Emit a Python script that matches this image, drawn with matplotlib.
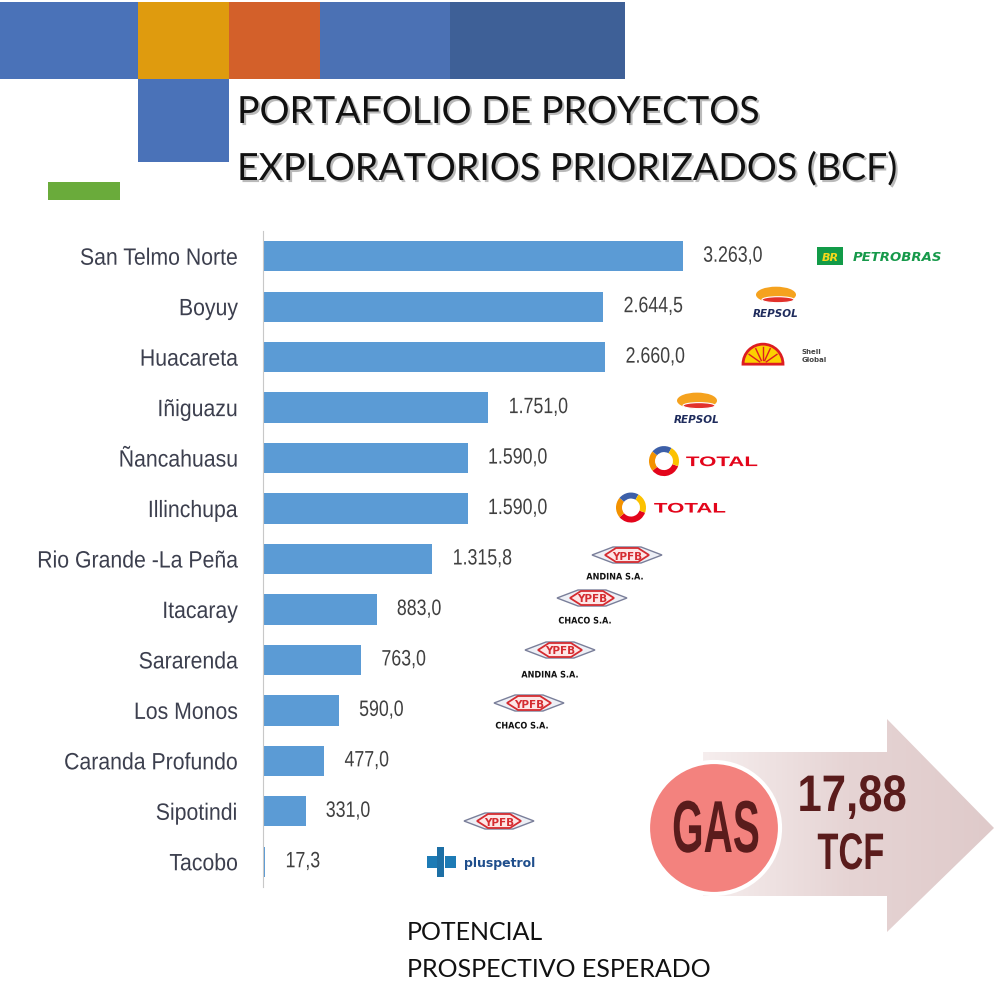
import numpy as np
import matplotlib
matplotlib.use('Agg')
import matplotlib.pyplot as plt
from matplotlib.patches import Rectangle, Polygon, Circle, Ellipse, Wedge
from matplotlib.patheffects import AbstractPathEffect, SimplePatchShadow, Normal
from matplotlib.colors import LinearSegmentedColormap
from matplotlib.transforms import Affine2D

# datos del grafico
proyectos = ['San Telmo Norte', 'Boyuy', 'Huacareta', 'Iñiguazu', 'Ñancahuasu',
             'Illinchupa', 'Rio Grande -La Peña', 'Itacaray', 'Sararenda',
             'Los Monos', 'Caranda Profundo', 'Sipotindi', 'Tacobo']
valores = [3263.0, 2644.5, 2660.0, 1751.0, 1590.0, 1590.0, 1315.8,
           883.0, 763.0, 590.0, 477.0, 331.0, 17.3]
operadores = ['Petrobras', 'Repsol', 'Shell', 'Repsol', 'Total', 'Total',
              'YPFB Andina', 'YPFB Chaco', 'YPFB Andina', 'YPFB Chaco', '',
              'YPFB', 'Pluspetrol']
titulo = ['PORTAFOLIO DE PROYECTOS', 'EXPLORATORIOS PRIORIZADOS (BCF)']
pie = ['POTENCIAL', 'PROSPECTIVO ESPERADO']
total_gas = ['17,88', 'TCF']


class Squeeze(AbstractPathEffect):
    """estrecha el texto en horizontal (la imagen original esta comprimida)"""
    def __init__(self, sx, anchor='center'):
        super().__init__()
        self.sx = sx
        self.anchor = anchor

    def draw_path(self, renderer, gc, tpath, affine, rgbFace=None):
        if len(tpath.vertices) == 0:
            return
        bb = tpath.get_extents(affine)
        x0 = {'left': bb.x0, 'right': bb.x1}.get(self.anchor, (bb.x0 + bb.x1) / 2)
        sq = Affine2D().translate(-x0, 0).scale(self.sx, 1).translate(x0, 0)
        renderer.draw_path(gc, tpath, affine + sq, rgbFace)


W, H = 999, 987
fig = plt.figure(figsize=(W / 100, H / 100), dpi=100, facecolor='white')

# capa de decoracion en pixeles (y hacia abajo)
deco = fig.add_axes([0, 0, 1, 1], zorder=0)
deco.axis('off')

for x0, x1, c in [(0, 138, '#4a72b8'), (138, 229, '#df9b0e'), (229, 320, '#d3602a'),
                  (320, 450, '#4b71b4'), (450, 625, '#3e6097')]:
    deco.add_patch(Rectangle((x0, 3), x1 - x0, 77, fc=c, ec='none'))
deco.add_patch(Rectangle((138, 80), 91, 83, fc='#4a72b8', ec='none'))
deco.add_patch(Rectangle((48, 183), 72, 18, fc='#6aab3b', ec='none'))

sombra = [SimplePatchShadow(offset=(1.5, -1.5), shadow_rgbFace='#777777', alpha=0.5), Normal()]
for linea, yb in zip(titulo, [124, 181]):
    deco.text(237, yb, linea, fontsize=27, family='Lato', color='#111111',
              va='baseline', ha='left', path_effects=sombra)

for linea, yb in zip(pie, [940, 977]):
    deco.text(407, yb, linea, fontsize=18, family='Lato', color='#111111',
              va='baseline', ha='left')

# flecha con degradado
flecha = Polygon([(703, 753), (887, 753), (887, 720), (994, 829), (887, 933),
                  (887, 897), (703, 897)], closed=True, fc='none', ec='none')
deco.add_patch(flecha)
cmap = LinearSegmentedColormap.from_list('fl', ['#f6eeee', '#e6d4d4', '#dfcaca'])
im = deco.imshow(np.linspace(0, 1, 256)[None, :], extent=(703, 994, 933, 720),
                 cmap=cmap, aspect='auto', zorder=1)
im.set_clip_path(flecha)

deco.add_patch(Circle((714, 829), 66, fc='#f3827e', ec='white', lw=3, zorder=2))
deco.text(716, 853, 'GAS', fontsize=53, family='Liberation Sans', weight='bold',
          color='#5a1c1c', ha='center', va='baseline', zorder=3,
          path_effects=[Squeeze(0.55)])
deco.text(852, 812, total_gas[0], fontsize=37, family='Liberation Sans', weight='bold',
          color='#5a1c1c', ha='center', va='baseline', zorder=3,
          path_effects=[Squeeze(0.85)])
deco.text(851, 870, total_gas[1], fontsize=37, family='Liberation Sans', weight='bold',
          color='#5a1c1c', ha='center', va='baseline', zorder=3,
          path_effects=[Squeeze(0.67)])

# ejes del grafico de barras
n = len(proyectos)
top, bottom, left, right = 232, 888, 263, 990
escala = 420 / 3263.0  # px por BCF
ax = fig.add_axes([left / W, 1 - bottom / H, (right - left) / W, (bottom - top) / H], zorder=1)
ax.patch.set_alpha(0)
y = np.arange(n)
ax.barh(y, valores, height=0.6, color='#5b9bd5')
ax.set_ylim(n - 0.5, -0.5)
ax.set_xlim(0, (right - left) / escala)
ax.set_yticks(y, proyectos)
ax.set_xticks([])
for s in ['top', 'right', 'bottom']:
    ax.spines[s].set_visible(False)
ax.spines['left'].set_color('#c8c8c8')
ax.tick_params(axis='y', length=0, pad=18, labelsize=17, labelcolor='#3c3f4e')
for lbl in ax.get_yticklabels():
    lbl.set_family('Liberation Sans')
    lbl.set_path_effects([Squeeze(0.9, 'right')])

for i, v in enumerate(valores):
    txt = f'{v:,.1f}'.replace(',', ' ').replace('.', ',').replace(' ', '.')
    ax.annotate(txt, (v, i), xytext=(14.4, 0), textcoords='offset points',
                va='center', ha='left', fontsize=16, color='#404040',
                family='Liberation Sans', path_effects=[Squeeze(0.8, 'left')])


# logos aproximados de los operadores
def petrobras(x, yc):
    deco.add_patch(Rectangle((x - 13, yc - 9), 26, 18, fc='#129b48', ec='none'))
    deco.text(x, yc + 1, 'BR', color='#f6d81c', fontsize=8, weight='bold', style='italic',
              ha='center', va='center')
    deco.text(x + 23, yc, 'PETROBRAS', color='#16994a', fontsize=9.5, weight='bold',
              style='italic', ha='left', va='center')


def repsol(x, yc):
    deco.add_patch(Ellipse((x, yc - 10), 40, 16, fc='#f5a21e', ec='none'))
    deco.add_patch(Ellipse((x + 2, yc - 5), 32, 6, fc='#e2312b', ec='white', lw=0.8))
    deco.text(x, yc + 8, 'REPSOL', color='#1e2b5c', fontsize=7.5, weight='bold',
              style='italic', ha='center', va='center')


def shell(x, yc):
    deco.add_patch(Wedge((x, yc + 9), 20, 180, 360, fc='#fcd000', ec='#dd1d21', lw=2))
    for a in [215, 245, 270, 295, 325]:
        r = np.radians(a)
        deco.plot([x + 4 * np.cos(r), x + 17 * np.cos(r)], [yc + 9 + 4 * np.sin(r), yc + 9 + 17 * np.sin(r)],
                  color='#dd1d21', lw=1)
    deco.text(x + 39, yc, 'Shell\nGlobal', fontsize=5, color='#444444', weight='bold',
              ha='left', va='center', linespacing=1.4)


def total(x, yc, tx):
    for a0, a1, c in [(20, 140, '#e3051b'), (140, 220, '#f39200'), (220, 300, '#3c5fa8'), (300, 380, '#fcc200')]:
        deco.add_patch(Wedge((x, yc), 15, a0, a1, width=6, fc=c, ec='none'))
    deco.text(tx, yc + 1, 'TOTAL', color='#e3051b', fontsize=10, weight='bold',
              family='Liberation Sans', ha='left', va='center',
              path_effects=[Squeeze(1.6, 'left')])


def ypfb(x, yc, sub=None, sx=None, sy=None):
    hexa = [(x - 35, yc), (x - 14, yc - 8), (x + 14, yc - 8), (x + 35, yc), (x + 14, yc + 8), (x - 14, yc + 8)]
    deco.add_patch(Polygon(hexa, closed=True, fc='#eef0f6', ec='#7a7f9a', lw=1))
    inner = [(x - 22, yc), (x - 11, yc - 7), (x + 11, yc - 7), (x + 22, yc), (x + 11, yc + 7), (x - 11, yc + 7)]
    deco.add_patch(Polygon(inner, closed=True, fc='#fde6e6', ec='#d52b30', lw=1.3))
    deco.text(x, yc + 0.5, 'YPFB', color='#d52b30', fontsize=7.5, weight='bold',
              ha='center', va='center')
    if sub:
        deco.text(sx, sy, sub, fontsize=6.5, weight='bold', color='#111111',
                  ha='center', va='center', path_effects=[Squeeze(0.9)])


def pluspetrol(x, yc):
    deco.add_patch(Rectangle((x - 13, yc - 6), 11, 12, fc='#1d7bb5', ec='none'))
    deco.add_patch(Rectangle((x - 3, yc - 15), 7, 30, fc='#1d6fa5', ec='none'))
    deco.add_patch(Rectangle((x + 5, yc - 6), 11, 12, fc='#1d7bb5', ec='none'))
    deco.text(x + 24, yc, 'pluspetrol', color='#1f4e8c', fontsize=9, weight='bold',
              ha='left', va='center')


fila = lambda i: top + (i + 0.5) * (bottom - top) / n
petrobras(830, fila(0))
repsol(776, fila(1) - 2)
shell(763, fila(2) - 2)
repsol(697, fila(3) + 3)
total(664, fila(4) + 3, 686)
total(631, fila(5) - 1, 654)
ypfb(627, 556, 'ANDINA S.A.', 615, 578)
ypfb(592, 599, 'CHACO S.A.', 585, 622)
ypfb(560, 651, 'ANDINA S.A.', 550, 676)
ypfb(529, 704, 'CHACO S.A.', 522, 727)
ypfb(499, 822)
pluspetrol(440, 863)

deco.set_xlim(0, W)
deco.set_ylim(H, 0)

fig.savefig('out.png', dpi=100, facecolor='white')
